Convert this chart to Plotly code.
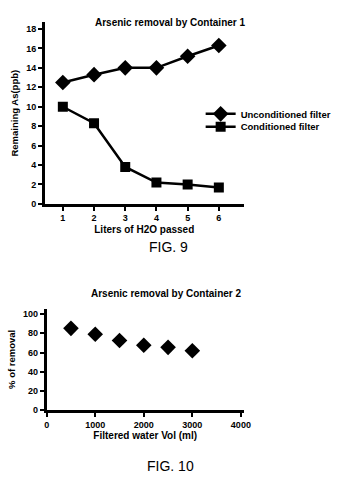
import plotly.graph_objects as go

# Figure 9 data
liters = [1, 2, 3, 4, 5, 6]
unconditioned = [12.5, 13.3, 14.0, 14.0, 15.2, 16.3]
conditioned = [10.0, 8.3, 3.8, 2.2, 2.0, 1.7]

# Figure 10 data
volume_ml = [500, 1000, 1500, 2000, 2500, 3000]
pct_removal = [85.2, 79.0, 72.5, 67.6, 65.4, 61.9]

FONT = "Liberation Sans, Arial, sans-serif"
BOLD = dict(family=FONT, size=9, color="black", weight="bold")
LEG = dict(xanchor="left", yanchor="middle",
           font=dict(family=FONT, size=9.5, color="black", weight="bold"),
           bgcolor="rgba(0,0,0,0)", borderwidth=0, itemwidth=30)

fig = go.Figure()
fig.add_trace(go.Scatter(
    x=liters, y=unconditioned, mode="lines+markers", name="Unconditioned filter",
    line=dict(color="black", width=2.5),
    marker=dict(symbol="diamond", size=12, color="black"),
    xaxis="x", yaxis="y", legend="legend"))
fig.add_trace(go.Scatter(
    x=liters, y=conditioned, mode="lines+markers", name="Conditioned filter",
    line=dict(color="black", width=2.5),
    marker=dict(symbol="square", size=10, color="black"),
    xaxis="x", yaxis="y", legend="legend2"))
fig.add_trace(go.Scatter(
    x=volume_ml, y=pct_removal, mode="markers", name="Container 2",
    marker=dict(symbol="diamond", size=12, color="black"),
    showlegend=False, xaxis="x2", yaxis="y2"))

axis_common = dict(showline=True, linecolor="black", linewidth=2.5, ticks="outside",
                   tickcolor="black", tickwidth=2, ticklen=4, showgrid=False,
                   zeroline=False, tickfont=BOLD, mirror=False)

fig.update_layout(
    width=345, height=494, margin=dict(l=0, r=0, t=0, b=0),
    paper_bgcolor="white", plot_bgcolor="white",
    font=dict(family=FONT, color="black"),
    showlegend=True,
    legend=dict(x=0.59, y=1 - 115 / 494, **LEG),
    legend2=dict(x=0.59, y=1 - 128 / 494, **LEG),
    xaxis=dict(domain=[0.1246, 0.7188], range=[0.42, 6.8], tickvals=liters,
               title=dict(text="Liters of H2O passed", font=dict(family=FONT, size=10, weight="bold"), standoff=4),
               anchor="y", **axis_common),
    yaxis=dict(domain=[0.583, 0.954], range=[0, 18.67], tickvals=[0, 2, 4, 6, 8, 10, 12, 14, 16, 18],
               title=dict(text="Remaining As(ppb)", font=dict(family=FONT, size=9.5, weight="bold"), standoff=6),
               anchor="x", **axis_common),
    xaxis2=dict(domain=[0.1304, 0.7188], range=[0, 4060], tickvals=[0, 1000, 2000, 3000, 4000],
                title=dict(text="Filtered water Vol (ml)", font=dict(family=FONT, size=10, weight="bold"), standoff=4),
                anchor="y2", **axis_common),
    yaxis2=dict(domain=[0.1613, 0.369], range=[0, 105.8], tickvals=[0, 20, 40, 60, 80, 100],
                title=dict(text="% of removal", font=dict(family=FONT, size=9.5, weight="bold"), standoff=6),
                anchor="x2", **axis_common),
    annotations=[
        dict(text="Arsenic removal by Container 1", x=172 / 345, y=1 - 15 / 494, xref="paper", yref="paper",
             showarrow=False, font=dict(family=FONT, size=10, weight="bold")),
        dict(text="FIG. 9", x=170 / 345, y=1 - 250 / 494, xref="paper", yref="paper",
             showarrow=False, font=dict(family=FONT, size=14)),
        dict(text="Arsenic removal by Container 2", x=168 / 345, y=1 - 296 / 494, xref="paper", yref="paper",
             showarrow=False, font=dict(family=FONT, size=10, weight="bold")),
        dict(text="FIG. 10", x=172 / 345, y=1 - 481 / 494, xref="paper", yref="paper",
             showarrow=False, font=dict(family=FONT, size=14)),
    ],
)

fig.write_html("out.html")
